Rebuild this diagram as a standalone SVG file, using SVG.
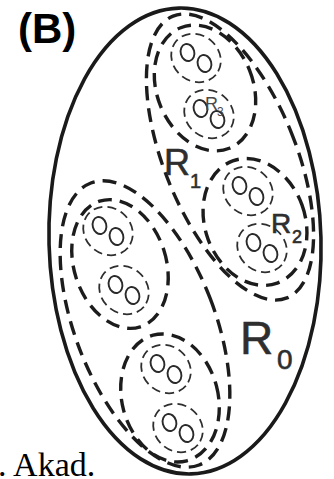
<svg xmlns="http://www.w3.org/2000/svg" width="334" height="479" viewBox="0 0 334 479">
<style>
.r0{fill:none;stroke:#1a1a1a;stroke-width:3.6}
.rd{fill:none;stroke:#1c1c1c;stroke-width:3.4;stroke-dasharray:14 8}
.r3{fill:none;stroke:#2e2e2e;stroke-width:1.8;stroke-dasharray:9 5}
.o{fill:none;stroke:#2a2a2a;stroke-width:1.9}
.lb{font-family:"Liberation Sans",Arial,sans-serif;fill:#2e2e2e;stroke:#2e2e2e;stroke-width:0.6}
.l3{font-family:"Liberation Sans",Arial,sans-serif;fill:#4a4a4a}
</style>
<defs>
<g id="pair">
<ellipse class="r3" cx="0" cy="0" rx="26" ry="23" transform="rotate(40)"/>
<ellipse class="o" cx="-8.5" cy="-5.5" rx="6.8" ry="8.6" transform="rotate(-15 -8.5 -5.5)"/>
<ellipse class="o" cx="8.5" cy="5.5" rx="6.8" ry="8.6" transform="rotate(-15 8.5 5.5)"/>
</g>
</defs>
<rect width="334" height="479" fill="#fff"/>
<text x="18" y="43" font-family="Liberation Sans,Arial,sans-serif" font-size="42" font-weight="bold" fill="#000">(B)</text>
<text x="-2" y="476" font-family="Liberation Serif,Times New Roman,serif" font-size="34" fill="#000">. Akad.</text>
<g id="R0">
<ellipse class="r0" cx="185" cy="241" rx="136" ry="233" transform="rotate(-1.5 185 241)"/>
<text class="lb" x="240" y="354" font-size="46">R</text>
<text class="lb" x="277" y="369" font-size="28">0</text>
</g>
<g id="R1-right">
<ellipse class="rd" cx="230" cy="157" rx="66" ry="152" transform="rotate(-22 230 157)"/>
</g>
<g id="R1-left">
<ellipse class="rd" cx="145" cy="324" rx="70" ry="151" transform="rotate(-21 145 324)"/>
</g>
<g id="R1-label">
<text class="lb" x="164" y="175" font-size="36">R</text>
<text class="lb" x="190" y="188" font-size="20">1</text>
</g>
<g id="R2-top">
<ellipse class="rd" cx="205" cy="88" rx="48" ry="65" transform="rotate(-22 205 88)"/>
<use href="#pair" x="196" y="58"/>
<use href="#pair" x="209" y="114"/>
<text class="l3" x="205" y="110" font-size="18">R</text>
<text class="l3" x="217" y="116" font-size="12">3</text>
</g>
<g id="R2-right">
<ellipse class="rd" cx="255" cy="222" rx="50" ry="65" transform="rotate(-20 255 222)"/>
<use href="#pair" x="248" y="191"/>
<use href="#pair" x="262" y="248"/>
<text class="lb" x="271" y="233" font-size="28">R</text>
<text class="lb" x="292" y="243" font-size="18">2</text>
</g>
<g id="R2-left">
<ellipse class="rd" cx="120" cy="264" rx="46" ry="66" transform="rotate(-18 120 264)"/>
<use href="#pair" x="108" y="231"/>
<use href="#pair" x="124" y="290"/>
</g>
<g id="R2-bottom">
<ellipse class="rd" cx="170" cy="398" rx="48" ry="65" transform="rotate(-15 170 398)"/>
<use href="#pair" x="166" y="369"/>
<use href="#pair" x="178" y="428"/>
</g>
</svg>
